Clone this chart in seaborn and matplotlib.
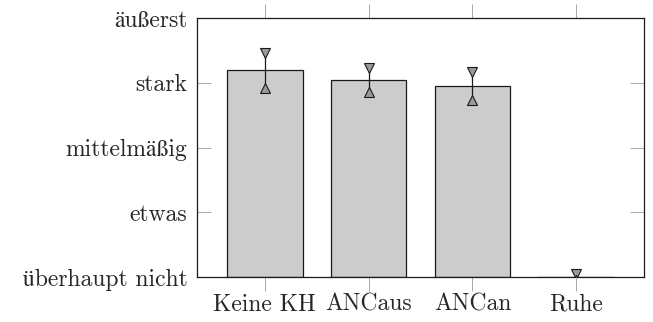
import matplotlib
matplotlib.use("Agg")
import matplotlib.pyplot as plt
import seaborn as sns
import pandas as pd
import numpy as np

categories = ["Keine KH", "ANCaus", "ANCan", "Ruhe"]
values = [3.19, 3.04, 2.95, 0.0]
errors = [0.27, 0.19, 0.21, 0.04]
ytick_labels = ["überhaupt nicht", "etwas", "mittelmäßig", "stark", "äußerst"]

sns.set_style("white")
plt.rcParams['font.family'] = ['cmr10', 'STIXGeneral']
plt.rcParams['axes.formatter.use_mathtext'] = True

df = pd.DataFrame({"cat": categories, "val": values})

fig = plt.figure(figsize=(6.53, 3.22), dpi=100)
ax = fig.add_axes([197/653, 1 - 277/322, (644-197)/653, (277-18)/322])

sns.barplot(data=df, x="cat", y="val", ax=ax, color="#cccccc", saturation=1,
            width=0.73, edgecolor="#1a1a1a", linewidth=0.9, errorbar=None, zorder=2)

x = np.arange(len(categories))
v = np.array(values)
e = np.array(errors)
ax.errorbar(x, v, yerr=e, fmt="none", ecolor="#1a1a1a", elinewidth=0.9, capsize=0, zorder=3)
ax.plot(x, v + e, linestyle="none", marker="v", markersize=6.5, markerfacecolor="#999999",
        markeredgecolor="#1a1a1a", markeredgewidth=0.8, zorder=4)
ax.plot(x, v - e, linestyle="none", marker="^", markersize=6.5, markerfacecolor="#999999",
        markeredgecolor="#1a1a1a", markeredgewidth=0.8, zorder=4, clip_on=True)

ax.set_xlim(-0.65, 3.65)
ax.set_ylim(0, 4)
ax.set_yticks(range(5))
ax.set_yticklabels(ytick_labels, fontsize=17)
ax.set_xticks(x)
ax.set_xticklabels(categories, fontsize=17)
ax.set_xlabel("")
ax.set_ylabel("")

for s in ax.spines.values():
    s.set_visible(True)
    s.set_color("#1a1a1a")
    s.set_linewidth(0.9)

ax.tick_params(axis="x", direction="out", length=10, width=0.7, color="#aaaaaa",
               top=True, bottom=True, pad=2)
ax.tick_params(axis="y", direction="in", length=10, width=0.7, color="#aaaaaa",
               left=True, right=True, pad=7)

fig.savefig("out.png", dpi=100)
